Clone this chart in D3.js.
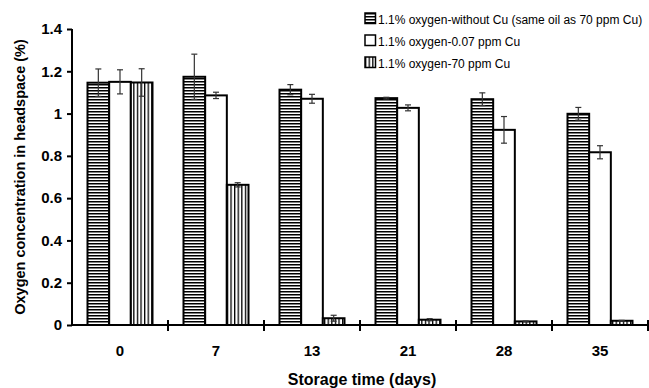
<!DOCTYPE html>
<meta charset="utf-8">
<style>
  body { margin: 0; background: #fff; }
  svg { display: block; font-family: "Liberation Sans", Arial, sans-serif; }
</style>
<body>
<svg id="chart" width="649" height="388"></svg>
<script src="https://d3js.org/d3.v7.min.js"></script>
<script>
  const days = ["0", "7", "13", "21", "28", "35"];
  const seriesNames = [
    "1.1% oxygen-without Cu (same oil as 70 ppm Cu)",
    "1.1% oxygen-0.07 ppm Cu",
    "1.1% oxygen-70 ppm Cu"
  ];
  const noCu   = [1.146, 1.174, 1.113, 1.073, 1.068, 0.999];
  const lowCu  = [1.150, 1.086, 1.070, 1.027, 0.923, 0.817];
  const highCu = [1.147, 0.663, 0.032, 0.025, 0.017, 0.020];
  const noCuErr   = [0.065, 0.107, 0.024, 0.004, 0.030, 0.030];
  const lowCuErr  = [0.057, 0.015, 0.021, 0.014, 0.063, 0.031];
  const highCuErr = [0.065, 0.010, 0.014, 0.005, 0.002, 0.002];
  const yTicks = [0, 0.2, 0.4, 0.6, 0.8, 1, 1.2, 1.4];

  const series = [
    { name: seriesNames[0], values: noCu, errs: noCuErr, fill: "url(#hstripe)" },
    { name: seriesNames[1], values: lowCu, errs: lowCuErr, fill: "#fff" },
    { name: seriesNames[2], values: highCu, errs: highCuErr, fill: "url(#vstripe)" }
  ];

  const svg = d3.select("#chart");
  const defs = svg.append("defs");

  // horizontal stripes
  const hp = defs.append("pattern").attr("id", "hstripe")
    .attr("patternUnits", "userSpaceOnUse").attr("width", 4).attr("height", 3);
  hp.append("rect").attr("width", 4).attr("height", 3).attr("fill", "#fff");
  hp.append("rect").attr("width", 4).attr("height", 1.5).attr("fill", "#000");

  // vertical stripes
  const vp = defs.append("pattern").attr("id", "vstripe")
    .attr("patternUnits", "userSpaceOnUse").attr("width", 3.6).attr("height", 4);
  vp.append("rect").attr("width", 3.6).attr("height", 4).attr("fill", "#fff");
  vp.append("rect").attr("width", 1.3).attr("height", 4).attr("fill", "#000");

  const x = d3.scaleBand().domain(days).range([72, 648]);
  const xs = d3.scaleBand().domain(d3.range(3))
    .range([15.5, x.bandwidth() - 15.5]);
  const y = d3.scaleLinear().domain([0, 1.4]).range([325, 29]);

  // bars
  series.forEach((s, si) => {
    const g = svg.append("g");
    g.selectAll("rect").data(s.values).join("rect")
      .attr("x", (d, i) => x(days[i]) + xs(si))
      .attr("y", d => y(d))
      .attr("width", xs.bandwidth())
      .attr("height", d => y(0) - y(d))
      .attr("fill", s.fill)
      .attr("stroke", "#000")
      .attr("stroke-width", 2);
  });

  // error bars
  series.forEach((s, si) => {
    const g = svg.append("g").attr("stroke", "#333").attr("stroke-width", 1.2);
    s.values.forEach((v, i) => {
      const cx = x(days[i]) + xs(si) + xs.bandwidth() / 2;
      const e = s.errs[i];
      g.append("line").attr("x1", cx).attr("x2", cx)
        .attr("y1", y(v + e)).attr("y2", y(v - e));
      [v + e, v - e].forEach(t => {
        g.append("line").attr("x1", cx - 3).attr("x2", cx + 3)
          .attr("y1", y(t)).attr("y2", y(t));
      });
    });
  });

  // y axis
  const yAxis = svg.append("g").attr("transform", "translate(72,0)")
    .call(d3.axisLeft(y).tickValues(yTicks).tickSize(5).tickPadding(5)
      .tickFormat(d => d3.format("")(d)));
  yAxis.select(".domain").attr("stroke-width", 2).attr("d", `M0,${y(1.4)}V${y(0)}`);
  yAxis.selectAll(".tick line").attr("stroke-width", 2);
  yAxis.selectAll(".tick text").attr("font-size", 15).attr("font-weight", "bold")
    .attr("font-family", "Liberation Sans, Arial, sans-serif").attr("fill", "#000");

  // x axis
  const xg = svg.append("g");
  xg.append("line").attr("x1", x.range()[0]).attr("x2", x.range()[1])
    .attr("y1", y(0)).attr("y2", y(0)).attr("stroke", "#000").attr("stroke-width", 2);
  const edges = days.map(d => x(d)).concat([x.range()[1]]).slice(1);
  xg.selectAll("line.tk").data(edges).join("line").attr("class", "tk")
    .attr("x1", d => d).attr("x2", d => d)
    .attr("y1", y(0) - 5).attr("y2", y(0) + 6)
    .attr("stroke", "#000").attr("stroke-width", 2);
  xg.selectAll("text").data(days).join("text")
    .attr("x", d => x(d) + x.bandwidth() / 2)
    .attr("y", 356)
    .attr("text-anchor", "middle")
    .attr("font-size", 15).attr("font-weight", "bold")
    .text(d => d);

  // axis titles
  svg.append("text")
    .attr("x", 362).attr("y", 385)
    .attr("text-anchor", "middle")
    .attr("font-size", 16).attr("font-weight", "bold")
    .text("Storage time (days)");
  svg.append("text")
    .attr("transform", `translate(25,${(y(0) + y(1.4)) / 2}) rotate(-90)`)
    .attr("text-anchor", "middle")
    .attr("font-size", 14.5).attr("font-weight", "bold")
    .text("Oxygen concentration in headspace (%)");

  // legend
  const lg = svg.append("g").attr("transform", "translate(365,13)");
  const items = lg.selectAll("g").data(series).join("g")
    .attr("transform", (d, i) => `translate(0,${i * 22})`);
  items.append("rect").attr("width", 10.5).attr("height", 10.5)
    .attr("fill", d => d.fill).attr("stroke", "#000").attr("stroke-width", 1.5);
  items.append("text").attr("x", 13).attr("y", 10.5)
    .attr("font-size", 12)
    .text(d => d.name);
</script>
</body>
